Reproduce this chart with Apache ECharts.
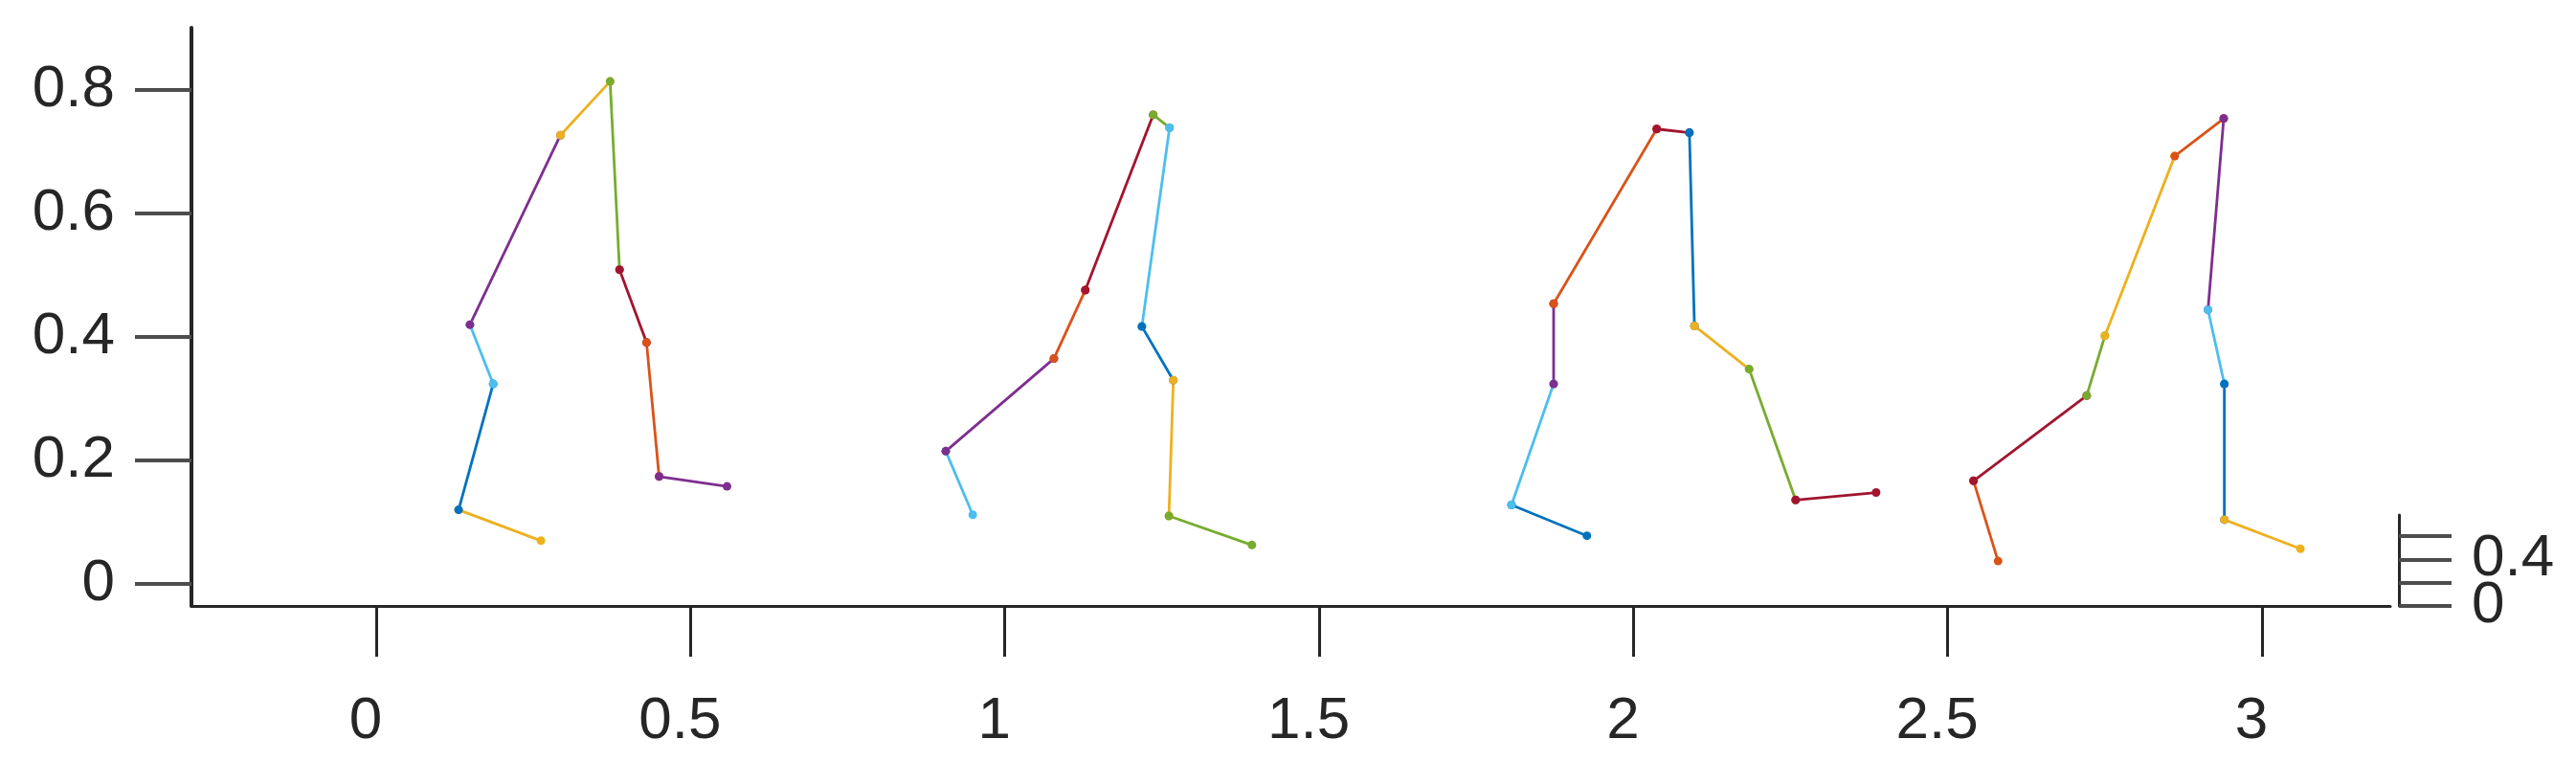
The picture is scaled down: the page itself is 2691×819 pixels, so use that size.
<!DOCTYPE html>
<html>
<head>
<meta charset="utf-8">
<script src="https://cdn.jsdelivr.net/npm/echarts@6/dist/echarts.min.js"></script>
<style>
html,body{margin:0;padding:0;background:#fff;}
#chart{width:2691px;height:819px;}
</style>
</head>
<body>
<div id="chart"></div>
<script>
// ---- data ----
const xTickValues = [0, 0.5, 1, 1.5, 2, 2.5, 3];
const xTickLabels = ['0', '0.5', '1', '1.5', '2', '2.5', '3'];
const yTickValues = [0, 0.2, 0.4, 0.6, 0.8];
const yTickLabels = ['0', '0.2', '0.4', '0.6', '0.8'];
const zLabelValues = [0, 0.4];
const zLabelTexts = ['0', '0.4'];

const fig1X = [0.262, 0.131, 0.186, 0.149, 0.293, 0.372, 0.387, 0.430, 0.450, 0.558];
const fig1Y = [0.070, 0.120, 0.324, 0.420, 0.727, 0.814, 0.509, 0.391, 0.174, 0.158];
const fig1Seg = ['yellow', 'blue', 'lightblue', 'purple', 'yellow', 'green', 'darkred', 'orange', 'purple'];

const fig2X = [0.949, 0.906, 1.078, 1.128, 1.236, 1.262, 1.218, 1.268, 1.261, 1.393];
const fig2Y = [0.112, 0.215, 0.365, 0.476, 0.760, 0.739, 0.417, 0.330, 0.110, 0.063];
const fig2Seg = ['lightblue', 'purple', 'orange', 'darkred', 'green', 'lightblue', 'blue', 'yellow', 'green'];

const fig3X = [1.926, 1.806, 1.873, 1.873, 2.037, 2.089, 2.097, 2.184, 2.258, 2.386];
const fig3Y = [0.078, 0.128, 0.324, 0.454, 0.737, 0.731, 0.418, 0.348, 0.136, 0.148];
const fig3Seg = ['blue', 'lightblue', 'purple', 'orange', 'darkred', 'blue', 'yellow', 'green', 'darkred'];

const fig4X = [2.580, 2.541, 2.721, 2.750, 2.861, 2.939, 2.914, 2.940, 2.940, 3.061];
const fig4Y = [0.037, 0.167, 0.305, 0.402, 0.693, 0.754, 0.444, 0.324, 0.104, 0.057];
const fig4Seg = ['orange', 'darkred', 'green', 'yellow', 'orange', 'purple', 'lightblue', 'blue', 'yellow'];

const COLORS = {
  blue: '#0072BD', orange: '#D95319', yellow: '#EDB120', purple: '#7E2F8E',
  green: '#77AC30', lightblue: '#4DBEEE', darkred: '#A2142F'
};

// ---- build series ----
const figures = [[fig1X, fig1Y, fig1Seg], [fig2X, fig2Y, fig2Seg], [fig3X, fig3Y, fig3Seg], [fig4X, fig4Y, fig4Seg]];
const series = [];
figures.forEach(([xs, ys, segs]) => {
  segs.forEach((c, i) => {
    series.push({
      type: 'line',
      xAxisIndex: 0, yAxisIndex: 0,
      data: [[xs[i], ys[i]], [xs[i + 1], ys[i + 1]]],
      symbol: 'circle',
      symbolSize: 9,
      showSymbol: true,
      lineStyle: { color: COLORS[c], width: 2.8 },
      itemStyle: { color: COLORS[c] },
      animation: false,
      silent: true,
      z: 3
    });
  });
});
// empty series for the small z-axis grid
series.push({ type: 'line', xAxisIndex: 1, yAxisIndex: 1, data: [], animation: false });

const FONT = 'Liberation Sans, Arial, Helvetica, sans-serif';
const AX = '#262626';

function labelFor(values, texts) {
  return v => {
    for (let i = 0; i < values.length; i++) if (Math.abs(values[i] - v) < 1e-6) return texts[i];
    return '';
  };
}

const chart = echarts.init(document.getElementById('chart'), null, { renderer: 'canvas' });
chart.setOption({
  backgroundColor: '#fff',
  animation: false,
  grid: [
    { left: 200, right: 194, top: 29, bottom: 186, containLabel: false },
    { left: 2506, width: 10, top: 538, bottom: 186, containLabel: false }
  ],
  xAxis: [
    {
      type: 'value', gridIndex: 0,
      min: -0.294, max: 3.204,
      axisLine: { show: true, onZero: false, lineStyle: { color: AX, width: 3 } },
      axisTick: { show: true, length: 53, customValues: xTickValues, lineStyle: { color: AX, width: 3 } },
      axisLabel: {
        show: true, customValues: xTickValues,
        formatter: labelFor(xTickValues, xTickLabels),
        fontFamily: FONT, fontSize: 62, color: AX, margin: 90,
        padding: [0, 22, 0, 0]
      },
      splitLine: { show: false }
    },
    {
      type: 'value', gridIndex: 1, min: 0, max: 1, show: false
    }
  ],
  yAxis: [
    {
      type: 'value', gridIndex: 0,
      min: -0.0357, max: 0.901,
      axisLine: { show: true, onZero: false, lineStyle: { color: AX, width: 4 } },
      axisTick: { show: true, length: 59, customValues: yTickValues, lineStyle: { color: '#4d4d4d', width: 4 } },
      axisLabel: {
        show: true, customValues: yTickValues,
        formatter: labelFor(yTickValues, yTickLabels),
        fontFamily: FONT, fontSize: 62, color: AX, margin: 80
      },
      splitLine: { show: false }
    },
    {
      type: 'value', gridIndex: 1,
      min: 0, max: 0.78, interval: 0.2,
      position: 'left',
      axisLine: { show: true, onZero: false, lineStyle: { color: AX, width: 3 } },
      axisTick: { show: true, inside: true, length: 55, lineStyle: { color: '#4d4d4d', width: 4 } },
      axisLabel: {
        show: true, inside: true,
        showMinLabel: true, showMaxLabel: false,
        formatter: labelFor(zLabelValues, zLabelTexts),
        hideOverlap: false,
        fontFamily: FONT, fontSize: 62, color: AX, margin: 76
      },
      splitLine: { show: false }
    }
  ],
  series: series
});
</script>
</body>
</html>
